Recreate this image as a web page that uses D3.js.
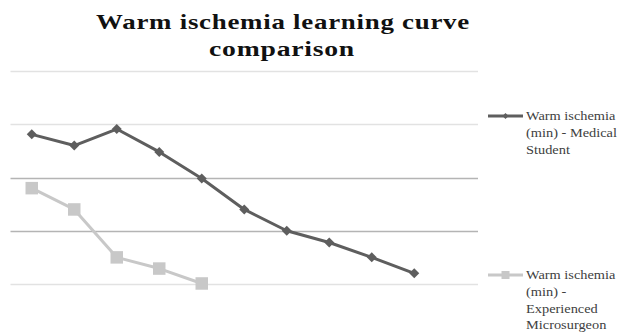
<!DOCTYPE html>
<html>
<head>
<meta charset="utf-8">
<script src="https://cdn.jsdelivr.net/npm/d3@7"></script>
<style>
  body { margin: 0; background: #fff; }
  svg { display: block; }
</style>
</head>
<body>
<div id="chart"></div>
<script>
// Data
var trials = ["1", "2", "3", "4", "5", "6", "7", "8", "9", "10", "11"];
var medicalStudent = [28.1, 26.0, 29.1, 24.8, 19.8, 14.0, 10.0, 7.8, 5.0, 2.0];
var microsurgeon = [18.0, 14.0, 5.0, 2.9, 0.1];
var yTicks = [0, 10, 20, 30, 40];
var titleLines = ["Warm ischemia learning curve", "comparison"];
var seriesNames = [
  ["Warm ischemia", "(min) - Medical", "Student"],
  ["Warm ischemia", "(min) -", "Experienced", "Microsurgeon"]
];

var width = 619, height = 335;

var svg = d3.select("#chart").append("svg")
    .attr("width", width)
    .attr("height", height);

// Scales
var x = d3.scaleBand()
    .domain(trials)
    .range([10.5, 478])
    .paddingInner(0);

var y = d3.scaleLinear()
    .domain([0, 40])
    .range([284, 71]);

function cx(i) { return x(trials[i]) + x.bandwidth() / 2; }

// stretch a text horizontally so it spans the wanted width
function fitWidth(sel, cxPos, target) {
  var w = sel.node().getComputedTextLength();
  sel.attr("transform", "translate(" + cxPos + ",0) scale(" + (target / w) + ",1)");
}

// Gridlines
var gridColors = ["#e2e2e2", "#b4b4b4", "#b4b4b4", "#e2e2e2", "#e2e2e2"];
svg.append("g")
  .selectAll("line")
  .data(yTicks)
  .enter().append("line")
    .attr("x1", 10.5)
    .attr("x2", 478)
    .attr("y1", function(d) { return Math.round(y(d)) + 0.5; })
    .attr("y2", function(d) { return Math.round(y(d)) + 0.5; })
    .attr("stroke", function(d, i) { return gridColors[i]; })
    .attr("stroke-width", 1.5);

// Title
var titleY = [29, 56], titleX = [283, 282], titleW = [374, 146];
titleLines.forEach(function(t, i) {
  var txt = svg.append("text")
    .attr("x", 0)
    .attr("y", titleY[i])
    .attr("text-anchor", "middle")
    .attr("font-family", "'Liberation Serif', serif")
    .attr("font-weight", "bold")
    .attr("font-size", 22)
    .attr("letter-spacing", 0.6)
    .attr("fill", "#111")
    .text(t);
  fitWidth(txt, titleX[i], titleW[i]);
});

// Lines
var line = d3.line()
    .x(function(d, i) { return cx(i); })
    .y(function(d) { return y(d); });

var series = [
  {values: medicalStudent, color: "#5e5e5e", symbol: "diamond", size: 10},
  {values: microsurgeon, color: "#c8c8c8", symbol: "square", size: 12.5}
];

// draw light series first so dark one sits on top
series.slice().reverse().forEach(function(s) {
  svg.append("path")
    .attr("d", line(s.values))
    .attr("fill", "none")
    .attr("stroke", s.color)
    .attr("stroke-width", 3)
    .attr("stroke-linejoin", "round");

  svg.append("g")
    .selectAll("path")
    .data(s.values)
    .enter().append("path")
      .attr("d", function() {
        var side = s.symbol == "diamond" ? s.size / Math.SQRT2 : s.size;
        return d3.symbol().type(d3.symbolSquare).size(side * side)();
      })
      .attr("transform", function(d, i) {
        return "translate(" + cx(i) + "," + y(d) + ")" + (s.symbol == "diamond" ? "rotate(45)" : "");
      })
      .attr("fill", s.color);
});

// Legend
var legendY = [116, 275];
var legendScale = null;
series.forEach(function(s, k) {
  var g = svg.append("g")
    .attr("transform", "translate(0," + legendY[k] + ")");

  g.append("line")
    .attr("x1", 488)
    .attr("x2", 523)
    .attr("stroke", s.color)
    .attr("stroke-width", 3);

  var side = s.symbol == "diamond" ? 6 / Math.SQRT2 : 8;
  g.append("path")
    .attr("d", d3.symbol().type(d3.symbolSquare).size(side * side)())
    .attr("transform", "translate(505.5,0)" + (s.symbol == "diamond" ? "rotate(45)" : ""))
    .attr("fill", s.color);

  var texts = g.selectAll("text")
    .data(seriesNames[k])
    .enter().append("text")
      .attr("x", 0)
      .attr("y", function(d, i) { return 4 + i * 16.8; })
      .attr("font-family", "'Liberation Serif', serif")
      .attr("font-size", 13.5)
      .attr("fill", "#404040")
      .text(function(d) { return d; });

  // widen the glyphs, but keep the longest line inside the page
  if (legendScale == null) {
    var maxW = d3.max(texts.nodes(), function(n) { return n.getComputedTextLength(); });
    legendScale = Math.min(1.2, 91 / maxW);
  }
  texts.attr("transform", "translate(526,0) scale(" + legendScale + ",1)");
});
</script>
</body>
</html>
